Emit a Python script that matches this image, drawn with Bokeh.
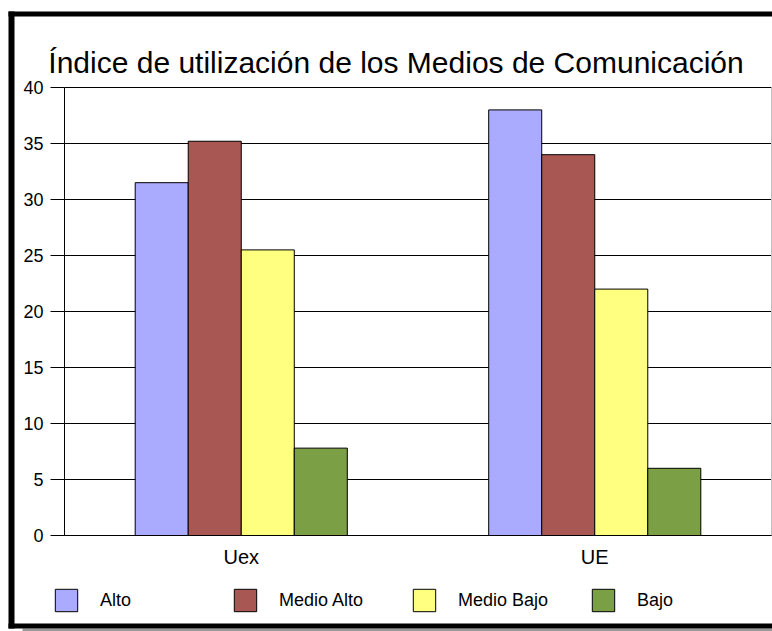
from bokeh.plotting import figure
from bokeh.models import (Range1d, FixedTicker, ColumnDataSource, Legend, LegendItem,
                          BoxAnnotation, Label)
from bokeh.transform import dodge
from bokeh.embed import file_html
from bokeh.resources import INLINE

# ---- data ----
groups = ["Uex", "UE"]
series = ["Alto", "Medio Alto", "Medio Bajo", "Bajo"]
alto = [31.5, 38.0]
medio_alto = [35.2, 34.0]
medio_bajo = [25.5, 22.0]
bajo = [7.8, 6.0]
colors = ["#AAAAFF", "#A95753", "#FFFF80", "#7B9F45"]
y_ticks = [0, 5, 10, 15, 20, 25, 30, 35, 40]
title_text = "Índice de utilización de los Medios de Comunicación"

FONT = "Liberation Sans"

# ---- layout (pixels) ----
W, H = 772, 631
PL, PR, PT, PB = 64, 771, 87, 535          # plot area edges on the canvas
n = len(groups)
y_max = y_ticks[-1]
px_x = (PR - PL) / n
px_y = (PB - PT) / y_max
x_range = Range1d(-PL / px_x, n + (W - PR) / px_x)
y_range = Range1d(-(H - PB) / px_y, y_max + PT / px_y)

gx = [i + 0.5 for i in range(n)]
source = ColumnDataSource(dict(gx=gx, alto=alto, medio_alto=medio_alto,
                               medio_bajo=medio_bajo, bajo=bajo))
cols = ["alto", "medio_alto", "medio_bajo", "bajo"]

p = figure(width=W, height=H, x_range=x_range, y_range=y_range,
           output_backend="svg", toolbar_location=None, title=None, min_border=0)
p.background_fill_color = "white"
p.border_fill_color = "white"
p.outline_line_color = None
p.xgrid.visible = False
p.ygrid.visible = False

# horizontal grid lines (at the y ticks, across the category span)
p.segment(x0=[0] * len(y_ticks), x1=[n] * len(y_ticks), y0=y_ticks, y1=y_ticks,
          line_color="black", line_width=1)
# right edge of plot area
p.segment(x0=[n], x1=[n], y0=[0], y1=[y_max], line_color="#c0c0c0", line_width=1)

bar_w = 0.15
offsets = [-1.5 * bar_w, -0.5 * bar_w, 0.5 * bar_w, 1.5 * bar_w]
renderers = []
for col, off, c in zip(cols, offsets, colors):
    r = p.vbar(x=dodge("gx", off), top=col, width=bar_w, source=source,
               fill_color=c, line_color="black", line_width=1)
    renderers.append(r)

# y axis
ya = p.yaxis[0]
ya.fixed_location = 0
ya.bounds = (0, y_max)
ya.ticker = FixedTicker(ticks=y_ticks)
ya.major_tick_out = 14
ya.major_tick_in = 0
ya.minor_tick_out = 0
ya.minor_tick_in = 0
ya.major_label_standoff = 7
ya.major_label_text_font = FONT
ya.major_label_text_font_size = "18px"
ya.major_label_text_color = "black"
ya.axis_line_color = "black"
ya.major_tick_line_color = "black"

# x axis (categories)
xa = p.xaxis[0]
xa.fixed_location = 0
xa.bounds = (0, n)
xa.ticker = FixedTicker(ticks=gx)
xa.major_label_overrides = {g: name for g, name in zip(gx, groups)}
xa.major_tick_out = 0
xa.major_tick_in = 0
xa.minor_tick_out = 0
xa.minor_tick_in = 0
xa.major_label_standoff = 10
xa.major_label_text_font = FONT
xa.major_label_text_font_size = "20px"
xa.major_label_text_color = "black"
xa.axis_line_color = "black"

# title
p.add_layout(Label(x=395.5, y=H - 62, x_units="screen", y_units="screen",
                   text=title_text, text_font=FONT, text_font_size="30px",
                   text_align="center", text_baseline="alphabetic",
                   text_color="black"))

# legend (legend glyphs are inset by 10% of the glyph box)
legend = Legend(items=[LegendItem(label=s, renderers=[r]) for s, r in zip(series, renderers)],
                orientation="horizontal", location=(52, H - 614),
                glyph_width=28, glyph_height=28, label_height=28,
                label_standoff=20, label_width=110, spacing=21,
                padding=0, margin=0, border_line_color=None,
                background_fill_alpha=0,
                label_text_font=FONT, label_text_font_size="18px",
                label_text_color="black")
p.add_layout(legend)

# outer frame: thick black left / top / bottom edges and a grey shadow
def edge(l, r, top, bottom, color):
    p.add_layout(BoxAnnotation(left=l, right=r, top=H - top, bottom=H - bottom,
                               left_units="screen", right_units="screen",
                               top_units="screen", bottom_units="screen",
                               fill_color=color, fill_alpha=1, line_color=None))

edge(22, W, 628, 631, "#999999")
edge(8, 14, 11, 628, "black")
edge(8, W, 11, 16, "black")
edge(8, W, 623, 628, "black")

open("out.html", "w").write(file_html(p, INLINE))
